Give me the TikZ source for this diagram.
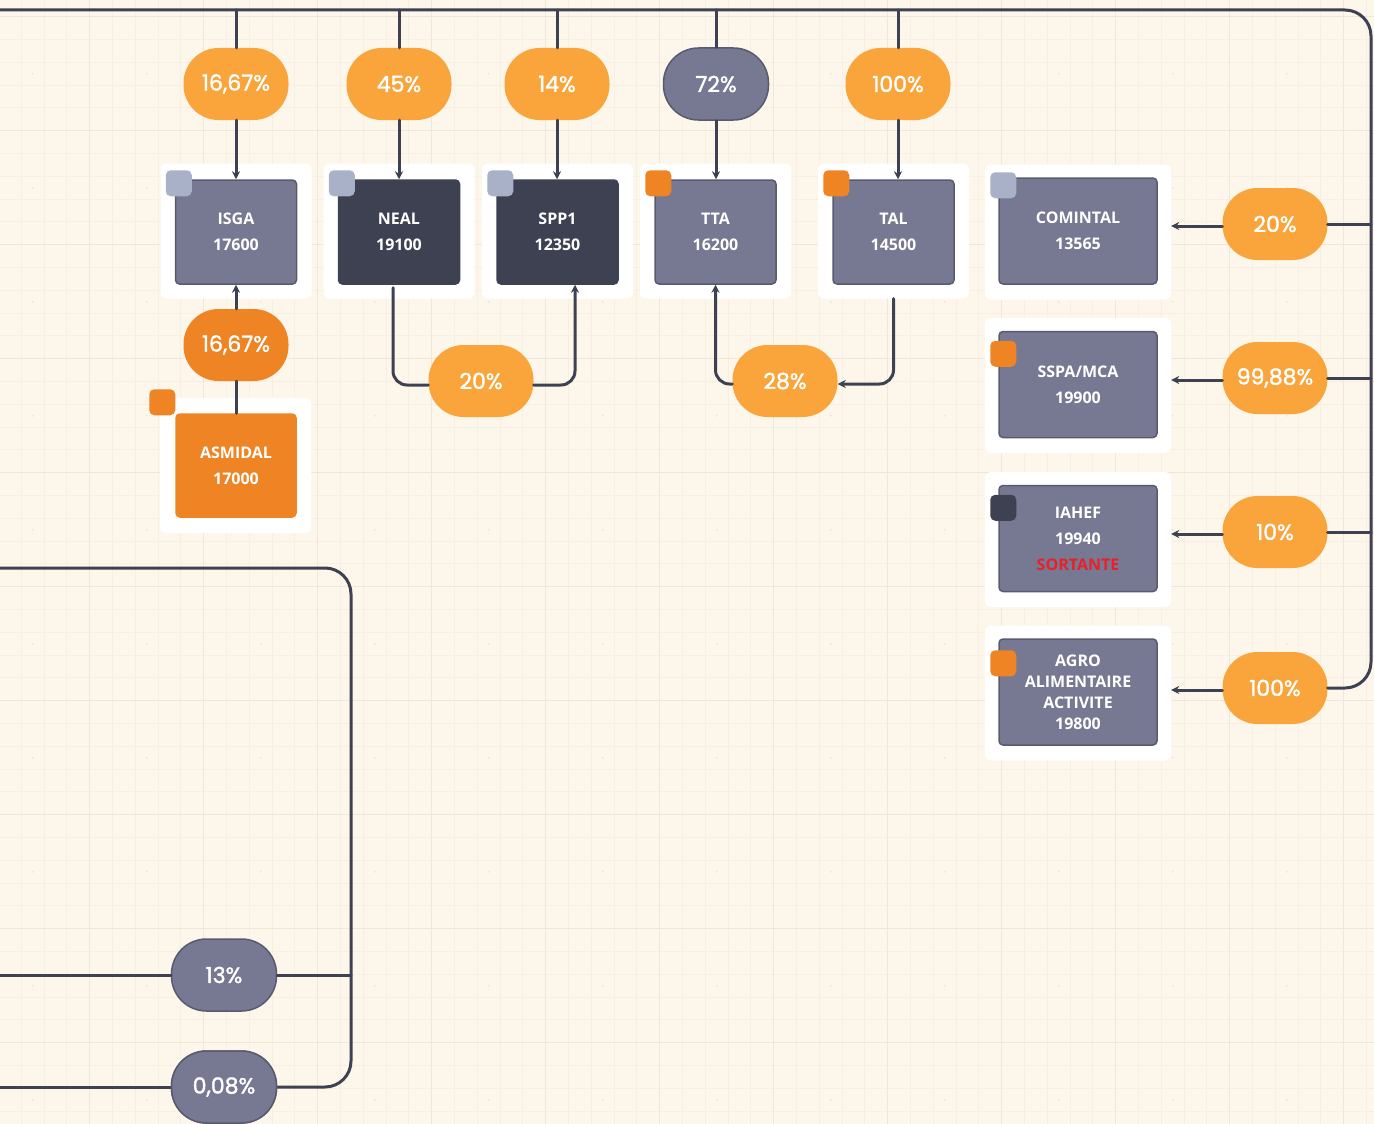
\documentclass[tikz,border=0pt]{standalone}
\usepackage{fontspec}
\setmainfont{Open Sans}
\newfontfamily\pctfont{Poppins}[FakeBold=1.6]
\usetikzlibrary{arrows.meta}
\definecolor{paper}{HTML}{FDF7EB}
\definecolor{gridminor}{HTML}{F6EFE2}
\definecolor{gridmajor}{HTML}{EEE7DA}
\definecolor{ink}{HTML}{3D4152}
\definecolor{slate}{HTML}{777891}
\definecolor{slateedge}{HTML}{585B6F}
\definecolor{amber}{HTML}{F9A53B}
\definecolor{rust}{HTML}{EE8424}
\definecolor{mist}{HTML}{A9B1C9}
\definecolor{alert}{HTML}{E8202A}
\begin{document}
\begin{tikzpicture}[x=1pt,y=-1pt,line cap=round,line join=round,
 >={Stealth[length=8pt,width=8pt]},
 card/.style={fill=white,rounded corners=6pt,minimum width=151pt,
  minimum height=135pt,inner sep=0pt},
 wide/.style={card,minimum width=186pt},
 comp/.style={fill=slate,draw=slateedge,line width=1.5pt,rounded corners=4pt,
  minimum width=121pt,minimum height=104pt,inner sep=0pt,align=center,
  text=white,font=\fontsize{16}{26}\selectfont\bfseries},
 deep/.style={comp,fill=ink,draw=ink},
 hot/.style={comp,fill=rust,draw=rust},
 broad/.style={comp,minimum width=158pt,minimum height=106pt},
 tight/.style={broad,font=\fontsize{16}{21}\selectfont\bfseries},
 tag/.style={minimum size=26pt,rounded corners=5pt,inner sep=0pt},
 pa/.style={fill=amber,rounded corners=35pt,minimum width=105pt,
  minimum height=72pt,inner sep=0pt,text=white,
  font=\pctfont\fontsize{22}{24}\selectfont},
 pb/.style={pa,fill=rust},
 pg/.style={pa,fill=slate,draw=slateedge,line width=1.5pt},
 link/.style={draw=ink,line width=3pt,rounded corners=26pt},
 loop/.style={link,rounded corners=14pt}]
 \useasboundingbox (0,0) rectangle (1374,1124);
 % paper and grid
 \begin{scope}
  \clip (0,0) rectangle (1374,1124);
  \fill[paper] (0,0) rectangle (1374,1124);
  \foreach \k in {0,...,61}{
   \draw[gridminor,line width=1pt] ({-24.3+22.8*\k},0) -- ++(0,1124);
   \draw[gridminor,line width=1pt] (0,{16.7+22.8*(\k-1)}) -- ++(1374,0);
  }
  \foreach \k in {0,...,12}{
   \draw[gridmajor,line width=1.5pt] ({-24.3+114*\k},0) -- ++(0,1124);
   \draw[gridmajor,line width=1.5pt] (0,{16.7+114*(\k-1)}) -- ++(1374,0);
  }
  \foreach \i in {0,...,12}
   \foreach \j in {0,...,10}
    \fill[gridmajor] ({-24.3+57+114*\i},{16.7+57+114*(\j-1)}) circle[radius=1.2pt];
 \end{scope}

 % top row
 \foreach \nm/\x/\txt/\sty/\tg in {isga/236/{ISGA\\17600}/comp/mist,
   neal/399/{NEAL\\19100}/deep/mist, spp1/557.5/{SPP1\\12350}/deep/mist,
   tta/715.5/{TTA\\16200}/comp/rust, tal/893.5/{TAL\\14500}/comp/rust}{
  \node[card] (\nm-c) at (\x,231) {};
  \node[\sty] (\nm) at (\x,232) {\txt};
  \node[tag,fill=\tg] at ([shift={(4,4)}]\nm.north west) {};
 }
 % right column
 \foreach \nm/\y/\txt/\sty/\tg/\dy in {comintal/231/{COMINTAL\\13565}/broad/mist/8,
   sspa/384.5/{SSPA/MCA\\19900}/broad/rust/23,
   iahef/538.5/{IAHEF\\19940\\{\color{alert}SORTANTE}}/broad/ink/23,
   agro/692/{AGRO\\ALIMENTAIRE\\ACTIVITE\\19800}/tight/rust/25}{
  \node[wide] (\nm-c) at (1078,\y+1) {};
  \node[\sty] (\nm) at (1078,\y) {\txt};
  \node[tag,fill=\tg] at ([shift={(5,\dy)}]\nm.north west) {};
 }
 % asmidal
 \node[card] (asmidal-c) at (235.5,465.5) {};
 \node[hot,minimum width=120pt,minimum height=103pt] (asmidal) at (236,465.5)
  {ASMIDAL\\17000};
 \node[tag,fill=rust] at ([shift={(-13,-11)}]asmidal.north west) {};

 % main lines
 \coordinate (top) at (0,10);
 \coordinate (edge) at (1371,10);
 \coordinate (lft) at (0,568);
 \coordinate (bend) at (351,568);
 \node[pa] (r100) at (1275,688) {100\%};
 \draw[link] (top) -- (edge) |- (r100.east);
 \draw[link] (lft) -- (bend) |- (224,1087);

 % top percentages
 \foreach \x/\lbl/\sty/\dst in {236/{16,67\%}/pa/isga, 399/45\%/pa/neal,
   557/14\%/pa/spp1, 716/72\%/pg/tta, 898/100\%/pa/tal}{
  \node[\sty] (p-\dst) at (\x,84) {\lbl};
  \draw[link] (p-\dst |- top) -- (p-\dst);
  \draw[link,->] (p-\dst.south) -- (p-\dst.south |- \dst.north);
 }
 % right percentages
 \foreach \y/\lbl/\dst in {224/20\%/comintal, 378/{99,88\%}/sspa, 532/10\%/iahef}{
  \node[pa] (p-\dst) at (1275,\y) {\lbl};
  \draw[link] (p-\dst.east) -- (p-\dst.east -| edge);
  \draw[link,->] ([yshift=-2]p-\dst.west) -- ([yshift=-2]p-\dst.west -| \dst-c.east);
 }
 \draw[link,->] ([yshift=-2]r100.west) -- ([yshift=-2]r100.west -| agro-c.east);

 % lower percentages
 \node[pb] (p-asm) at (236,345) {16,67\%};
 \draw[link,->] (p-asm) -- (isga.south);
 \draw[link] (asmidal.north) -- (p-asm.south);
 \node[pa] (p-neal) at (481,381) {20\%};
 \draw[loop] ([xshift=-6,yshift=-3]neal.south) |- ([yshift=-4]p-neal.west);
 \draw[loop,->] ([yshift=-4]p-neal.east) -| ([xshift=17.5]spp1.south);
 \node[pa] (p-tal) at (785,381) {28\%};
 \draw[loop,->] (tal-c.south) |- ([yshift=-3]p-tal.east);
 \draw[loop,->] ([yshift=-3]p-tal.west) -| (tta.south);

 % bottom left
 \node[pg] (p-13) at (224,975) {13\%};
 \node[pg] (p-008) at (224,1087) {0,08\%};
 \draw[link] (p-13.east) -- (p-13.east -| bend);
 \draw[link] (p-13.west) -- (p-13.west -| lft);
 \draw[link] (p-008.west) -- (p-008.west -| lft);
 \node[pg] at (p-008) {0,08\%};
\end{tikzpicture}
\end{document}
